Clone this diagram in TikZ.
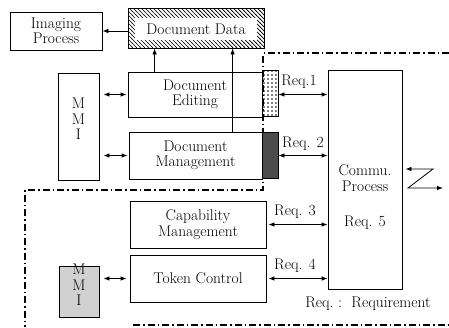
\documentclass[tikz,border=0pt]{standalone}
\usetikzlibrary{arrows.meta,calc,patterns}

\newcommand{\blkfont}{\fontsize{15.5pt}{15.5pt}\selectfont}
% coarse hatching and dot raster for the fills
\pgfdeclarepatternformonly{hatchNW}{\pgfqpoint{-1pt}{-1pt}}{\pgfqpoint{5pt}{5pt}}{\pgfqpoint{4pt}{4pt}}{%
  \pgfsetlinewidth{0.7pt}
  \pgfpathmoveto{\pgfqpoint{-0.5pt}{4.5pt}}
  \pgfpathlineto{\pgfqpoint{4.5pt}{-0.5pt}}
  \pgfusepath{stroke}}
\pgfdeclarepatternformonly{dotsB}{\pgfqpoint{-1pt}{-1pt}}{\pgfqpoint{1pt}{1pt}}{\pgfqpoint{4pt}{4pt}}{%
  \pgfpathcircle{\pgfqpoint{0pt}{0pt}}{0.8pt}
  \pgfusepath{fill}}

\tikzset{
  blk/.style={draw, line width=.8pt, inner sep=0pt, align=center, font=\blkfont},
  txt/.style={inner sep=0pt, align=center, font=\blkfont},
  link/.style={line width=.8pt, >={Latex[length=6pt,width=4.5pt]}},
  bound/.style={line width=1.3pt, dash pattern=on 7pt off 3pt on 1.5pt off 3pt},
}

\begin{document}
\begin{tikzpicture}[x=1pt,y=-1pt]
\useasboundingbox (0,0) rectangle (449,327);

% frame round the communication side
\draw[bound] (449,53) -- (263,53) -- (263,190) -- (25,190) -- (25,327);
\draw[bound] (133,325) -- (449,325);

\node[blk, minimum width=92, minimum height=38] (img) at (56,31) {Imaging\\Process};
\node[blk, pattern=hatchNW, minimum width=136, minimum height=40] (data) at (196,28) {};
\node[txt, fill=white, minimum width=122, minimum height=22] (dataTxt) at (196,29) {Document Data};

\node[blk, minimum width=134, minimum height=45] (edit) at (195,94.5) {Document\\Editing};
\node[blk, minimum width=133, minimum height=47] (mgmt) at (195.5,155.5) {Document\\Management};
\node[blk, minimum width=136, minimum height=47] (cap) at (198,224.5) {Capability\\Management};
\node[blk, minimum width=136, minimum height=47] (tok) at (198,278.5) {Token Control};

% request ports
\node[blk, pattern=dotsB, minimum width=16, minimum height=46] (dotA) at (270,93) {};
\node[blk, fill=black!70, minimum width=16, minimum height=46] (darkB) at (270,155) {};

% man-machine interfaces
\node[blk, minimum width=41, minimum height=107] (mmiA) at (78.5,126.5) {};
\node[txt] (mmiAtxt) at (78.5,119) {M\\M\\I};
\node[blk, fill=black!18, minimum width=40, minimum height=51] (mmiB) at (79,291.5) {};
\node[txt] (mmiBtxt) at (79,285) {M\\M\\I};

\node[blk, minimum width=74, minimum height=219] (comm) at (365,179.5) {};
\node[txt] (commTxt) at (365,178) {Commu.\\Process};
\node[txt] (req5) at (365,223) {Req. 5};

\node[txt] (legend) at (368,304) {Req.~:~~Requirement};

% data flow
\draw[link,->] (data.west |- img.east) -- (img.east);
\draw[link,->] ([xshift=27pt]edit.north west) -- ([xshift=27pt]edit.north west |- data.south);
\draw[link,->] ([xshift=104pt]mgmt.north west) -- ([xshift=104pt]mgmt.north west |- data.south);

\draw[link,<->] ([xshift=4pt]mmiA.east |- edit.west) -- ([xshift=-1pt]edit.west);
\draw[link,<->] ([xshift=4pt]mmiA.east |- mgmt.west) -- ([xshift=-1pt]mgmt.west);
\draw[link,<->] ([xshift=4pt]mmiB.east |- tok.west) -- ([xshift=-3pt]tok.west);

% requests
\draw[link,<->] (dotA.east |- edit.east) -- node[txt, above=6pt, xshift=-4pt] {Req.1} (comm.west |- edit.east);
\draw[link,<->] (darkB.east |- mgmt.east) -- node[txt, above=5pt] {Req. 2} (comm.west |- mgmt.east);
\draw[link,<->] ([xshift=2pt]cap.east) -- node[txt, above=6pt, xshift=-3pt] {Req. 3} (comm.west |- cap.east);
\draw[link,<->] ([xshift=2pt]tok.east) -- node[txt, above=6pt, xshift=-3pt] {Req. 4} (comm.west |- tok.east);

% line to the outside
\coordinate (zTop) at (433,169);
\coordinate (zBot) at (408,188);
\draw[link,<->] ([xshift=3pt]comm.east |- zTop) -- (zTop) -- (zBot) -- ++(35,0);

\end{tikzpicture}
\end{document}
